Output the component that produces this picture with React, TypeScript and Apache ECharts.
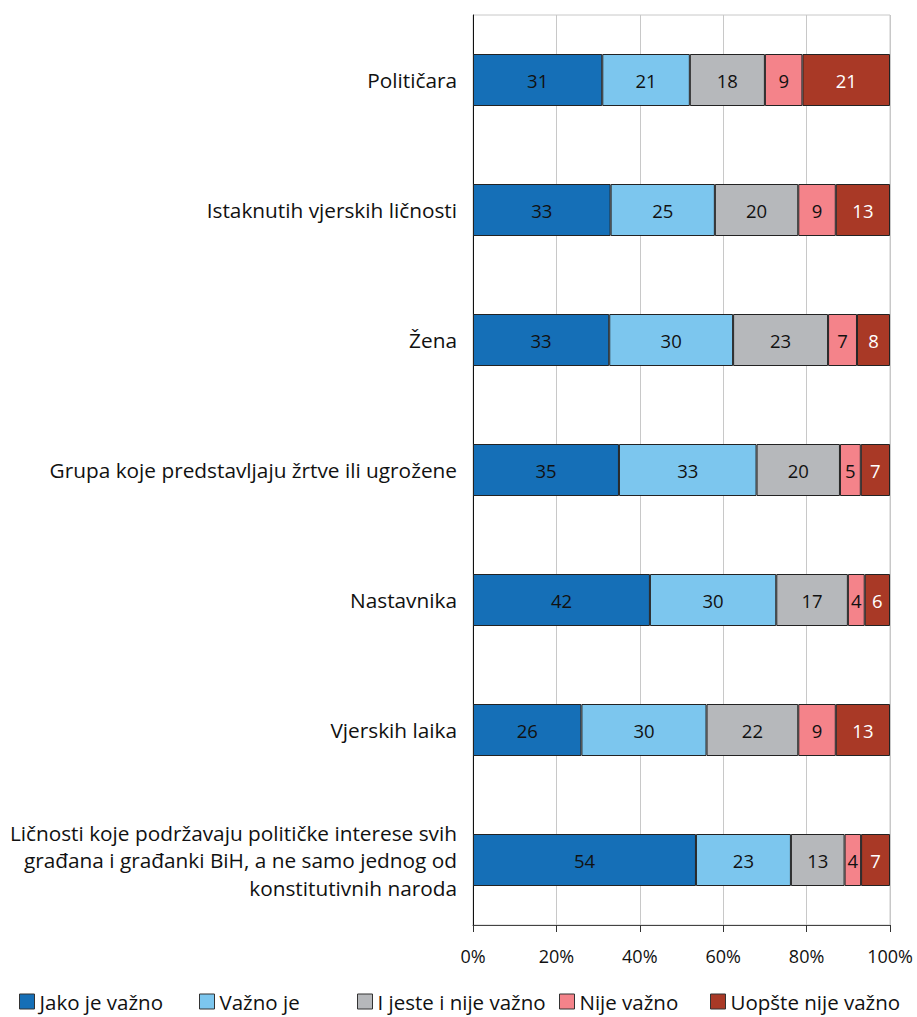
import React, { useEffect, useRef } from "react";
import * as echarts from "echarts";

const categories = [
  "Političara",
  "Istaknutih vjerskih ličnosti",
  "Žena",
  "Grupa koje predstavljaju žrtve ili ugrožene",
  "Nastavnika",
  "Vjerskih laika",
  "Ličnosti koje podržavaju političke interese svih\ngrađana i građanki BiH, a ne samo jednog od\nkonstitutivnih naroda",
];

const seriesNames = ["Jako je važno", "Važno je", "I jeste i nije važno", "Nije važno", "Uopšte nije važno"];
const jakoJeVazno = [31, 33, 33, 35, 42, 26, 54];
const vaznoJe = [21, 25, 30, 33, 30, 30, 23];
const jesteINije = [18, 20, 23, 20, 17, 22, 13];
const nijeVazno = [9, 9, 7, 5, 4, 9, 4];
const uopsteNije = [21, 13, 8, 7, 6, 13, 7];
const tickLabels = ["0%", "20%", "40%", "60%", "80%", "100%"];

const colors = ["#156FB7", "#7CC6EE", "#B6B8BB", "#F4838A", "#A93926"];
const labelColors = ["#111", "#111", "#111", "#111", "#fff"];
const legendLefts = [19, 199, 357, 559, 710];

export default function App() {
  const ref = useRef<HTMLDivElement>(null);
  useEffect(() => {
    const chart = echarts.init(ref.current!, null, { renderer: "svg" });
    const raw = [jakoJeVazno, vaznoJe, jesteINije, nijeVazno, uopsteNije];
    const totals = categories.map((_, i) => raw.reduce((s, arr) => s + arr[i], 0));
    const font = "'Open Sans', sans-serif";
    chart.setOption({
      animation: false,
      textStyle: { fontFamily: font },
      grid: {
        left: 473,
        right: 27,
        top: 15,
        bottom: 92,
        outerBoundsMode: "none",
        containLabel: false,
        show: true,
        borderColor: "#c8c8c8",
        borderWidth: 1,
      },
      legend: seriesNames.map((n, i) => ({
        top: 991,
        left: legendLefts[i],
        padding: 0,
        itemWidth: 15,
        itemHeight: 15,
        icon: "rect",
        itemStyle: { borderColor: "#333", borderWidth: 1 },
        textStyle: { fontSize: 20.5, color: "#111", fontFamily: font },
        data: [n],
      })),
      xAxis: {
        type: "value",
        min: 0,
        max: 100,
        interval: 20,
        axisLine: { show: true, lineStyle: { color: "#444" } },
        axisTick: { show: true, length: 7, lineStyle: { color: "#333" } },
        splitLine: { show: true, lineStyle: { color: "#c8c8c8" } },
        axisLabel: {
          fontSize: 18,
          color: "#111",
          margin: 22,
          formatter: (v: number) => tickLabels[Math.round(v / 20)],
        },
      },
      yAxis: {
        type: "category",
        inverse: true,
        data: categories,
        axisLine: { show: true, lineStyle: { color: "#111" } },
        axisTick: { show: false },
        axisLabel: { fontSize: 20.8, color: "#111", margin: 16, lineHeight: 27.5, align: "right" },
      },
      series: raw.map((arr, si) => ({
        name: seriesNames[si],
        type: "bar",
        stack: "total",
        barWidth: 52,
        itemStyle: { color: colors[si], borderColor: "#222", borderWidth: 1 },
        label: {
          show: true,
          position: "inside",
          fontSize: 18.5,
          color: labelColors[si],
          formatter: (p: any) => String(arr[p.dataIndex]),
        },
        data: arr.map((v, i) => (v / totals[i]) * 100),
      })),
    });
    return () => chart.dispose();
  }, []);
  return (
    <div
      ref={ref}
      style={{ position: "absolute", left: 0, top: 0, width: 917, height: 1017 }}
    />
  );
}
